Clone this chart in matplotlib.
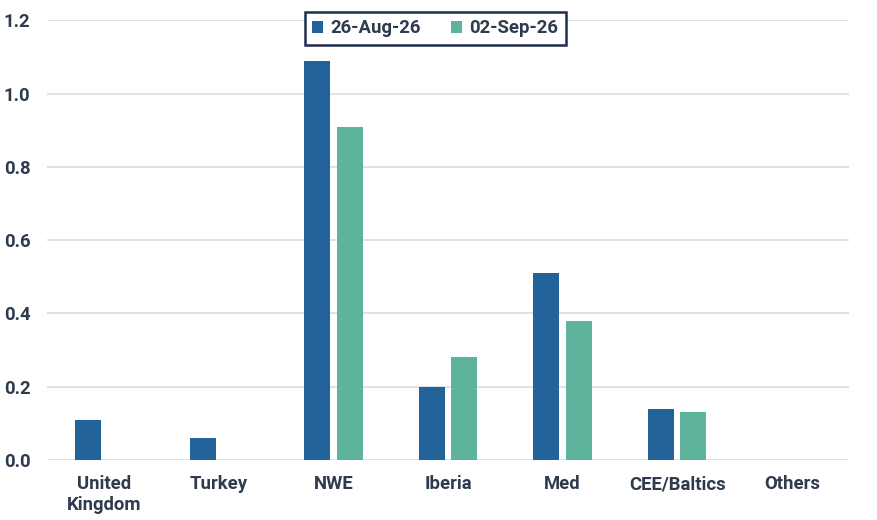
import matplotlib
matplotlib.use("Agg")
import matplotlib.pyplot as plt
import numpy as np

categories = ["United\nKingdom", "Turkey", "NWE", "Iberia", "Med", "CEE/Baltics", "Others"]
series_names = ["26-Aug-26", "02-Sep-26"]
aug26 = [0.11, 0.06, 1.09, 0.20, 0.51, 0.14, 0.0]
sep02 = [0.0, 0.0, 0.91, 0.28, 0.38, 0.13, 0.0]
yticks = [0.0, 0.2, 0.4, 0.6, 0.8, 1.0, 1.2]

plt.rcParams['font.family'] = ['Roboto', 'DejaVu Sans']
txt = '#2E3A4E'
c1 = '#22649A'
c2 = '#5DB39C'

fig = plt.figure(figsize=(8.78, 5.2), dpi=100)
ax = fig.add_axes([0.0535, 0.1154, 0.9135, 0.8454])

x = np.arange(len(categories))
w = 0.226
off = 0.142
ax.bar(x - off, aug26, w, color=c1, label=series_names[0], zorder=3)
ax.bar(x + off, sep02, w, color=c2, label=series_names[1], zorder=3)

ax.set_xlim(-0.5, len(categories) - 0.5)
ax.set_ylim(0, 1.2)
ax.set_yticks(yticks)
ax.set_yticklabels([f"{v:.1f}" for v in yticks])
ax.set_xticks(x)
ax.set_xticklabels(categories, linespacing=1.2)
ax.grid(axis='y', color='#D9DDE3', linewidth=1.2, zorder=0)
ax.set_axisbelow(True)
for s in ax.spines.values():
    s.set_visible(False)
ax.tick_params(axis='both', length=0, labelsize=13.3, labelcolor=txt)
ax.tick_params(axis='x', pad=11)
ax.tick_params(axis='y', pad=12)
for lab in ax.get_xticklabels() + ax.get_yticklabels():
    lab.set_fontweight('bold')

leg = ax.legend(loc='upper center', bbox_to_anchor=(0.484, 1.019), ncol=2, frameon=True,
                fancybox=False, framealpha=1, prop={'weight': 'bold', 'size': 13.3},
                handlelength=0.6, handleheight=0.6, handletextpad=0.4, columnspacing=1.6,
                borderpad=0.4, borderaxespad=0)
leg.get_frame().set_edgecolor('#1F2D4D')
leg.get_frame().set_linewidth(1.8)
for t in leg.get_texts():
    t.set_color(txt)

fig.savefig("out.png", dpi=100)
